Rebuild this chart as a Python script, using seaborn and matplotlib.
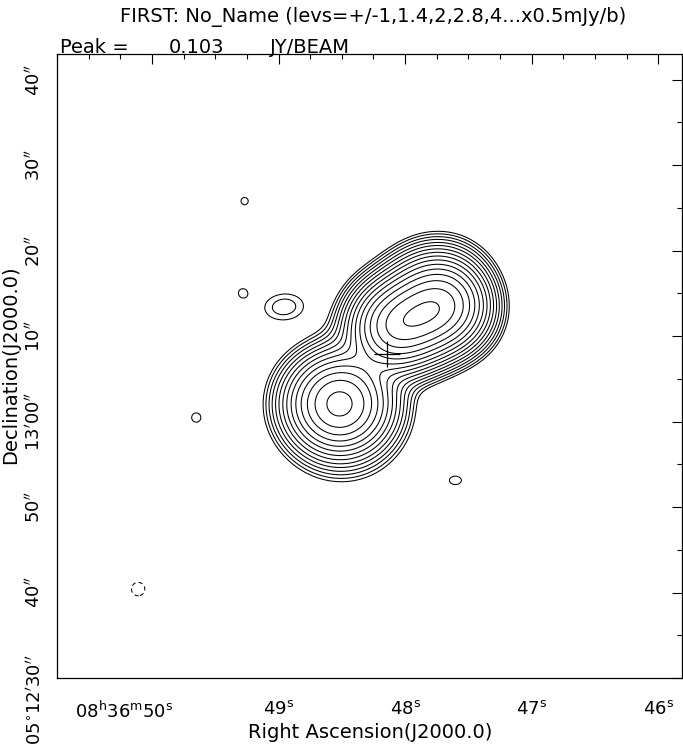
import numpy as np
import matplotlib
matplotlib.use("Agg")
import matplotlib.pyplot as plt
import seaborn as sns

# ---------------- data ----------------
title = "FIRST: No_Name (levs=+/-1,1.4,2,2.8,4...x0.5mJy/b)"
peak_label = "Peak ="
peak_value = "0.103"
peak_unit = "JY/BEAM"
base_level = 0.5  # mJy/beam
level_multipliers = [1, 1.4, 2, 2.8, 4, 5.6, 8, 11.3, 16, 22.6, 32, 45.3, 64, 90.5, 128, 181, 256]
neg_multipliers = [-1]

# Gaussian components of the source (RA seconds of 08h36m, Dec arcsec above 05d12m00s)
comp_ra = [48.129, 48.005, 47.882, 47.759, 47.636, 47.805, 48.520, 48.490, 48.307,
           48.957, 49.268, 49.284, 49.650, 47.603, 50.109]
comp_dec = [70.80, 71.58, 72.36, 73.14, 73.92, 75.93, 62.10, 58.80, 67.93,
            73.42, 85.79, 75.05, 60.47, 53.12, 40.40]
comp_amp = [34.0, 34.0, 34.0, 34.0, 34.0, 10.0, 50.0, 2.0, 3.0,
            0.85, 0.56, 0.56, 0.58, 0.58, -0.62]            # mJy/beam
comp_smaj = [2.3, 2.3, 2.3, 2.3, 2.3, 2.8, 2.95, 3.3, 3.0,
             2.2, 0.9, 0.9, 1.0, 1.3, 1.2]                  # arcsec
comp_smin = [2.5, 2.5, 2.5, 2.5, 2.5, 2.4, 2.75, 3.0, 2.5,
             1.45, 0.9, 0.9, 1.0, 0.9, 1.2]                 # arcsec
comp_ang = [23, 23, 23, 23, 23, 20, 0, 0, 48,
            5, 0, 0, 0, 0, 0]                                # deg

cross_ra = [48.14]
cross_dec = [67.93]

xticks_major = [50, 49, 48, 47, 46]
xtick_labels = [r"08$^{\rm h}$36$^{\rm m}$50$^{\rm s}$", r"49$^{\rm s}$", r"48$^{\rm s}$",
                r"47$^{\rm s}$", r"46$^{\rm s}$"]
yticks_major = [30, 40, 50, 60, 70, 80, 90, 100]
ytick_labels = [r"05$^{\circ}$12$^{\prime}$30$^{\prime\prime}$", r"40$^{\prime\prime}$",
                r"50$^{\prime\prime}$", r"13$^{\prime}$00$^{\prime\prime}$",
                r"10$^{\prime\prime}$", r"20$^{\prime\prime}$", r"30$^{\prime\prime}$",
                r"40$^{\prime\prime}$"]

xlim = (50.677, 45.813)
ylim = (30.0, 103.0)
arcsec_per_s = 14.94

# ---------------- build the map ----------------
sns.set_style("white")
plt.rcParams["font.family"] = ["DejaVu Sans"]
plt.rcParams["mathtext.fontset"] = "dejavusans"
plt.rcParams["text.color"] = "black"
plt.rcParams["axes.labelcolor"] = "black"
plt.rcParams["xtick.color"] = "black"
plt.rcParams["ytick.color"] = "black"

ra = np.linspace(45.6, 50.9, 600)
dec = np.linspace(28.0, 105.0, 660)
RA, DEC = np.meshgrid(ra, dec)
Z = np.zeros_like(RA)
for r0, d0, a, smj, smn, ang in zip(comp_ra, comp_dec, comp_amp, comp_smaj, comp_smin, comp_ang):
    u = (r0 - RA) * arcsec_per_s
    v = DEC - d0
    t = np.deg2rad(ang)
    up = u * np.cos(t) + v * np.sin(t)
    vp = -u * np.sin(t) + v * np.cos(t)
    Z += a * np.exp(-0.5 * (up ** 2 / smj ** 2 + vp ** 2 / smn ** 2))

W, H = 683, 746
fig = plt.figure(figsize=(W / 100, H / 100), dpi=100)
ax = fig.add_axes([57 / W, (H - 678) / H, 625 / W, 624 / H])

pos_levels = [base_level * m for m in level_multipliers]
neg_levels = [base_level * m for m in neg_multipliers]
ax.contour(RA, DEC, Z, levels=pos_levels, colors="black", linewidths=0.75)
ax.contour(RA, DEC, Z, levels=neg_levels, colors="black", linewidths=0.75,
           linestyles=[(0, (4, 3))])

sns.scatterplot(x=cross_ra, y=cross_dec, marker="+", s=330, color="black",
                linewidth=0.9, ax=ax, legend=False)

ax.set_xlim(*xlim)
ax.set_ylim(*ylim)

ax.set_xticks(xticks_major)
ax.set_xticklabels([""] + xtick_labels[1:], fontsize=13)
ax.set_xticks(np.arange(46.0, 50.76, 0.25), minor=True)
ax.set_yticks(yticks_major)
ax.set_yticklabels([""] + ytick_labels[1:], fontsize=13, rotation=90, va="center")
ax.set_yticks(np.arange(30, 103, 5), minor=True)

ax.tick_params(which="both", direction="in", top=True, right=True, width=0.8, color="black")
ax.tick_params(which="major", length=7.5)
ax.tick_params(which="minor", length=3.8)
ax.tick_params(axis="x", which="major", pad=16)
ax.tick_params(axis="y", which="major", pad=10)
for s in ax.spines.values():
    s.set_visible(True)
    s.set_color("black")
    s.set_linewidth(0.9)

ax.annotate(xtick_labels[0], xy=(xticks_major[0], 0), xycoords=("data", "axes fraction"),
            xytext=(-28, -33), textcoords="offset pixels", ha="center", va="center", fontsize=13)
ax.annotate(ytick_labels[0], xy=(0, yticks_major[0]), xycoords=("axes fraction", "data"),
            xytext=(-22, -22), textcoords="offset pixels", ha="center", va="center",
            rotation=90, fontsize=13)

fig.text(370 / W, 1 - 733 / H, "Right Ascension(J2000.0)", fontsize=14, ha="center", va="center")
fig.text(11 / W, 1 - 365 / H, "Declination(J2000.0)", fontsize=14, ha="center", va="center",
         rotation=90)
fig.text(60 / W, 1 - 53 / H, peak_label, fontsize=14, ha="left", va="baseline")
fig.text(169 / W, 1 - 53 / H, peak_value, fontsize=14, ha="left", va="baseline")
fig.text(270 / W, 1 - 53 / H, peak_unit, fontsize=14, ha="left", va="baseline")
fig.text(373 / W, 1 - 22 / H, title, fontsize=14, ha="center", va="baseline")

fig.savefig("out.png", dpi=100)
